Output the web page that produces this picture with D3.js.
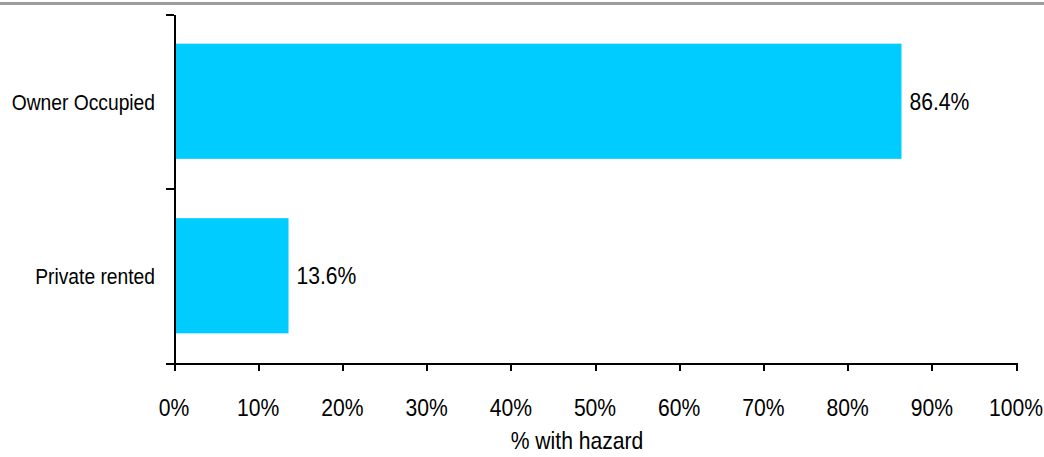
<!DOCTYPE html>
<html>
<head>
<meta charset="utf-8">
<script src="https://cdn.jsdelivr.net/npm/d3@7"></script>
<style>
  body { margin: 0; background: #fff; }
  svg text { font-family: "Liberation Sans", Arial, sans-serif; fill: #000; }
  .axis path, .axis line { stroke: #000; stroke-width: 2; shape-rendering: crispEdges; }
</style>
</head>
<body>
<svg id="chart" width="1044" height="457"></svg>
<script>
// Chart data
var categories = ["Owner Occupied", "Private rented"];
var values = [86.4, 13.6];
var xTicks = [0, 10, 20, 30, 40, 50, 60, 70, 80, 90, 100];
var xTitle = "% with hazard";

function drawChart() {
    var width = 1044;
    var plotLeft = 174, plotRight = 1016, plotTop = 14, plotBottom = 363;

    var svg = d3.select("#chart");

    // gray rule across the top
    svg.append("rect")
        .attr("x", 0).attr("y", 2)
        .attr("width", width).attr("height", 3)
        .attr("fill", "#9c9c9c");

    var x = d3.scaleLinear().domain([0, 100]).range([plotLeft, plotRight]);
    var y = d3.scaleBand().domain(categories).range([plotTop, plotBottom])
        .paddingInner(0.34).paddingOuter(0.17);
    var yEdge = d3.scaleLinear().domain([0, categories.length]).range([plotTop, plotBottom]);

    // narrow text: scale horizontally about the anchor point
    function squeezed(tx, ty, size, squeeze) {
        return svg.append("text")
            .attr("transform", "translate(" + tx + "," + ty + ") scale(" + squeeze + ",1)")
            .style("font-size", size + "px");
    }

    // bars
    svg.selectAll("rect.bar")
        .data(categories)
        .enter().append("rect")
        .attr("class", "bar")
        .attr("x", x(0))
        .attr("y", function(d) { return y(d); })
        .attr("width", function(d, i) { return x(values[i]) - x(0); })
        .attr("height", y.bandwidth())
        .attr("fill", "#00ccff");

    // value labels
    categories.forEach(function(c, i) {
        squeezed(x(values[i]) + 8, y(c) + y.bandwidth() / 2, 24, 0.88)
            .attr("dy", "0.35em")
            .text(values[i].toFixed(1) + "%");
    });

    // y axis: ticks at category boundaries
    svg.append("g")
        .attr("class", "axis")
        .attr("transform", "translate(" + plotLeft + ",0)")
        .call(d3.axisLeft(yEdge).tickValues([0, 1, 2]).tickSize(8).tickSizeOuter(0).tickFormat(""));

    categories.forEach(function(c) {
        squeezed(plotLeft - 19, y(c) + y.bandwidth() / 2 + 1, 22, 0.875)
            .attr("dy", "0.35em")
            .attr("text-anchor", "end")
            .text(c);
    });

    // x axis
    svg.append("g")
        .attr("class", "axis")
        .attr("transform", "translate(0," + plotBottom + ")")
        .call(d3.axisBottom(x).tickValues(xTicks).tickSize(8).tickSizeOuter(0).tickFormat(""));

    xTicks.forEach(function(t) {
        squeezed(x(t), 416, 24, 0.88)
            .attr("text-anchor", "middle")
            .text(t + "%");
    });

    squeezed(577, 449, 24, 0.88)
        .attr("text-anchor", "middle")
        .text(xTitle);
}

drawChart();
</script>
</body>
</html>
